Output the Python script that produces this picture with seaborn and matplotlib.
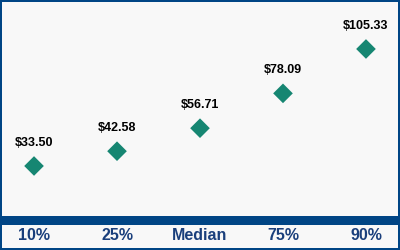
import matplotlib
matplotlib.use("Agg")
import matplotlib.pyplot as plt
import seaborn as sns
import pandas as pd
from matplotlib.patches import Rectangle

categories = ["10%", "25%", "Median", "75%", "90%"]
values = [33.50, 42.58, 56.71, 78.09, 105.33]
value_labels = ["$33.50", "$42.58", "$56.71", "$78.09", "$105.33"]

BG = "#f8f8f8"
BLUE = "#004585"
TICK_BLUE = "#1a3f7c"
TEAL = "#168672"

sns.set_theme(style="white")
plt.rcParams["font.family"] = ["Liberation Sans", "DejaVu Sans"]

W, H = 400, 250
fig = plt.figure(figsize=(W / 100, H / 100), dpi=100, facecolor=BG)
ax = fig.add_axes([0, 34 / H, 1, 216 / H])
ax.set_facecolor(BG)

df = pd.DataFrame({"cat": categories, "val": values})
sns.scatterplot(data=df, x="cat", y="val", marker="D", s=100, color=TEAL,
                edgecolor="none", linewidth=0, ax=ax, zorder=3)

for i, (v, lab) in enumerate(zip(values, value_labels)):
    ax.annotate(lab.replace("$", r"\$"), (i, v), xytext=(0, 16.5),
                textcoords="offset points", ha="center", va="center",
                fontsize=9, fontweight="bold", color="black")

ax.set_xlim(-0.41, 4.41)
ax.set_ylim(2.8, 135.4)
ax.set_yticks([])
ax.set_xticks(range(len(categories)))
ax.set_xticklabels(categories, fontsize=11.5, fontweight="bold", color=TICK_BLUE)
ax.tick_params(axis="x", length=0, pad=9)
ax.set_xlabel("")
ax.set_ylabel("")
for s in ax.spines.values():
    s.set_visible(False)

# blue band under the plot area
fig.patches.append(Rectangle((0, (H - 225) / H), 1, 9 / H, transform=fig.transFigure,
                             facecolor=BLUE, edgecolor="none", zorder=5))
# outer border
fig.patches.append(Rectangle((1 / W, 1 / H), 1 - 2 / W, 1 - 2 / H, transform=fig.transFigure,
                             facecolor="none", edgecolor=BLUE, linewidth=1.44, zorder=6))

fig.savefig("out.png", dpi=100, facecolor=BG)
